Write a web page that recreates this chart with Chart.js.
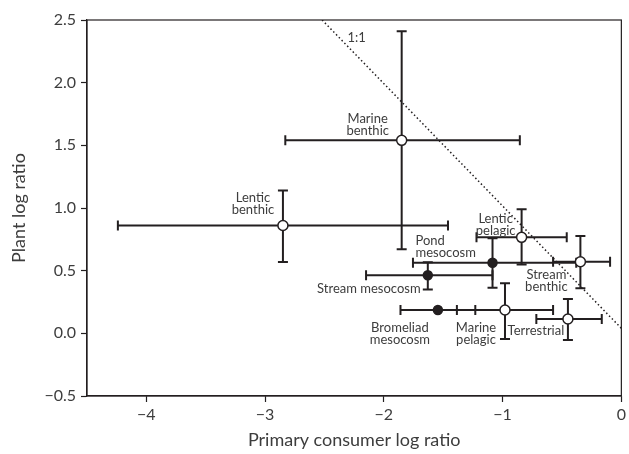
<!DOCTYPE html>
<html>
<head>
<meta charset="utf-8">
<script src="https://cdn.jsdelivr.net/npm/chart.js@4/dist/chart.umd.min.js"></script>
<style>
  body { margin: 0; background: #fff; }
</style>
</head>
<body>
<canvas id="chart" width="629" height="454"></canvas>
<script>
// systems and their mean log ratios
const systems = ['Marine\nbenthic', 'Lentic\nbenthic', 'Lentic\npelagic', 'Pond\nmesocosm', 'Stream mesocosm',
                 'Stream\nbenthic', 'Bromeliad\nmesocosm', 'Marine\npelagic', 'Terrestrial'];
const consumerLR = [-1.85, -2.85, -0.84, -1.085, -1.63, -0.345, -1.545, -0.98, -0.45];
const plantLR    = [1.54, 0.86, 0.766, 0.563, 0.463, 0.571, 0.186, 0.186, 0.114];
// error bar extents
const consumerLow  = [-2.83, -4.24, -1.22, -1.755, -2.15, -0.575, -1.86, -1.385, -0.716];
const consumerHigh = [-0.855, -1.46, -0.46, -0.38, -1.085, -0.095, -1.23, -0.575, -0.165];
const plantLow  = [0.67, 0.57, 0.55, 0.364, 0.35, 0.36, 0.186, -0.045, -0.053];
const plantHigh = [2.41, 1.14, 0.99, 0.758, 0.567, 0.776, 0.186, 0.40, 0.274];
// mesocosm studies are drawn as filled symbols
const filled = [false, false, false, true, true, false, true, false, false];
// 1:1 reference line
const oneToOneX = [-2.52, 0];
const oneToOneY = [2.5, 0.04];

const xTicks = [-4, -3, -2, -1, 0];
const yTicks = [-0.5, 0, 0.5, 1.0, 1.5, 2.0, 2.5];

// label placement in pixels relative to each point: [dx, dy, align]
const labelPlace = [[-34, -22, 'center'], [-30, -28, 'center'], [-26, -19, 'center'], [-77, -22, 'left'],
                    [-59, 14, 'center'], [-34, 13, 'center'], [-38, 18, 'center'], [-29, 18, 'center'], [-32, 12, 'center']];

const ink = '#231f20';
const textCol = '#3d3d3d';
const fam = 'Lato, "Open Sans", sans-serif';
const minus = s => String(s).replace('-', '\u2212');

const errorBars = {
    id: 'errorBars',
    beforeDatasetsDraw(chart) {
        const ctx = chart.ctx, xs = chart.scales.x, ys = chart.scales.y;
        const cap = 5;
        ctx.save();
        ctx.strokeStyle = ink;
        ctx.lineWidth = 2;
        for (let i = 0; i < systems.length; i++) {
            const px = xs.getPixelForValue(consumerLR[i]);
            const py = ys.getPixelForValue(plantLR[i]);
            const x0 = xs.getPixelForValue(consumerLow[i]);
            const x1 = xs.getPixelForValue(consumerHigh[i]);
            const y0 = ys.getPixelForValue(plantLow[i]);
            const y1 = ys.getPixelForValue(plantHigh[i]);
            ctx.beginPath();
            ctx.moveTo(x0, py); ctx.lineTo(x1, py);
            ctx.moveTo(x0, py - cap); ctx.lineTo(x0, py + cap);
            ctx.moveTo(x1, py - cap); ctx.lineTo(x1, py + cap);
            if (Math.abs(y1 - y0) > 1) {
                ctx.moveTo(px, y0); ctx.lineTo(px, y1);
                ctx.moveTo(px - cap, y0); ctx.lineTo(px + cap, y0);
                ctx.moveTo(px - cap, y1); ctx.lineTo(px + cap, y1);
            }
            ctx.stroke();
        }
        ctx.restore();
    }
};

const pointLabels = {
    id: 'pointLabels',
    afterDatasetsDraw(chart) {
        const ctx = chart.ctx, xs = chart.scales.x, ys = chart.scales.y;
        ctx.save();
        ctx.fillStyle = textCol;
        ctx.font = '13px ' + fam;
        ctx.textBaseline = 'middle';
        for (let i = 0; i < systems.length; i++) {
            const px = xs.getPixelForValue(consumerLR[i]);
            const py = ys.getPixelForValue(plantLR[i]);
            const [dx, dy, align] = labelPlace[i];
            ctx.textAlign = align;
            systems[i].split('\n').forEach((line, k) => {
                ctx.fillText(line, px + dx, py + dy + k * 12);
            });
        }
        // 1:1 tag near the top of the dotted line
        ctx.textAlign = 'center';
        ctx.fillText('1:1', xs.getPixelForValue(-2.23), ys.getPixelForValue(2.36));
        ctx.restore();
    }
};

const frame = {
    id: 'frame',
    afterDraw(chart) {
        const a = chart.chartArea, ctx = chart.ctx;
        ctx.save();
        ctx.strokeStyle = ink;
        ctx.lineWidth = 1.2;
        ctx.strokeRect(a.left, a.top, a.right - a.left, a.bottom - a.top);
        ctx.restore();
    }
};

new Chart(document.getElementById('chart'), {
    type: 'scatter',
    data: {
        datasets: [
            {
                label: 'systems',
                data: consumerLR.map((v, i) => ({x: v, y: plantLR[i]})),
                pointRadius: filled.map(f => f ? 4.5 : 5),
                pointBackgroundColor: filled.map(f => f ? ink : '#ffffff'),
                pointBorderColor: ink,
                pointBorderWidth: 1.5,
                order: 1
            },
            {
                type: 'line',
                label: '1:1',
                data: oneToOneX.map((v, i) => ({x: v, y: oneToOneY[i]})),
                borderColor: ink,
                borderWidth: 1.5,
                borderDash: [1.5, 2.5],
                pointRadius: 0,
                fill: false,
                order: 2
            }
        ]
    },
    options: {
        responsive: false,
        animation: false,
        layout: { padding: { top: 20, right: 5, left: 0, bottom: 0 } },
        plugins: { legend: { display: false }, tooltip: { enabled: false } },
        scales: {
            x: {
                type: 'linear',
                min: -4.5,
                max: 0,
                afterBuildTicks: s => { s.ticks = xTicks.map(v => ({value: v})); },
                afterFit: s => { s.height = 58; },
                ticks: {
                    color: textCol,
                    font: { family: fam, size: 16 },
                    padding: 3,
                    callback: v => minus(v)
                },
                grid: { drawOnChartArea: false, tickLength: 6, tickColor: ink, tickWidth: 1.2 },
                border: { color: ink, width: 1.2 },
                title: {
                    display: true,
                    text: 'Primary consumer log ratio',
                    color: textCol,
                    font: { family: fam, size: 18 },
                    padding: { top: 0, bottom: 3 }
                }
            },
            y: {
                type: 'linear',
                min: -0.5,
                max: 2.5,
                afterBuildTicks: s => { s.ticks = yTicks.map(v => ({value: v})); },
                afterFit: s => { s.width = 87; },
                ticks: {
                    color: textCol,
                    font: { family: fam, size: 16 },
                    padding: 5,
                    callback: v => minus(v.toFixed(1))
                },
                grid: { drawOnChartArea: false, tickLength: 6, tickColor: ink, tickWidth: 1.2 },
                border: { color: ink, width: 1.2 },
                title: {
                    display: true,
                    text: 'Plant log ratio',
                    color: textCol,
                    font: { family: fam, size: 18 },
                    padding: { top: 8, bottom: 0 }
                }
            }
        }
    },
    plugins: [errorBars, pointLabels, frame]
});
</script>
</body>
</html>
